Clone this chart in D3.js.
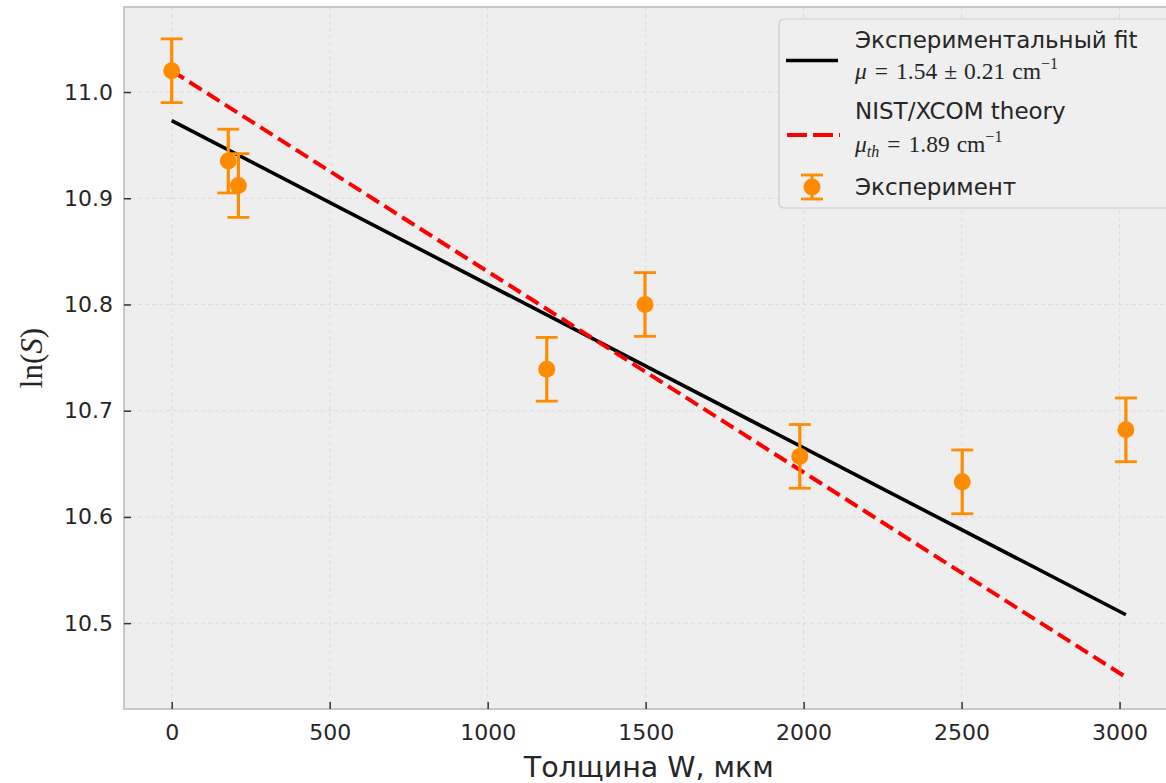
<!DOCTYPE html>
<html>
<head>
<meta charset="utf-8">
<script src="https://cdn.jsdelivr.net/npm/d3@7"></script>
<style>
  html, body { margin: 0; padding: 0; background: #ffffff; overflow: hidden; }
  svg { display: block; }
  text { font-family: "DejaVu Sans", sans-serif; fill: #262626; }
  .math { font-family: "Liberation Serif", "DejaVu Serif", serif; }
</style>
</head>
<body>
<div id="chart"></div>
<script>
// Thickness W (µm) and measured ln(S) with its uncertainty
const thickness = [0, 179, 211, 1187, 1498, 1988, 2502, 3020];
const lnS = [11.020, 10.935, 10.912, 10.739, 10.800, 10.657, 10.633, 10.682];
const lnSErr = [0.03, 0.03, 0.03, 0.03, 0.03, 0.03, 0.03, 0.03];

// Linear models: ln S = a - mu * W  (mu in cm^-1, W in µm -> factor 1e-4)
const fitIntercept = 10.973;
const fitMu = 1.54;
const theoryIntercept = 11.020;
const theoryMu = 1.89;

const xTicks = [0, 500, 1000, 1500, 2000, 2500, 3000];
const yTicks = [10.5, 10.6, 10.7, 10.8, 10.9, 11.0];

const W = 1166, H = 783;
const plot = { left: 124, top: 7, bottom: 709, right: 1173.6 };

const svg = d3.select("#chart").append("svg")
  .attr("width", W).attr("height", H);

const xMin = d3.min(thickness), xMax = d3.max(thickness);
const fitLine = w => fitIntercept - fitMu * 1e-4 * w;
const thLine = w => theoryIntercept - theoryMu * 1e-4 * w;

const yLo = Math.min(d3.min(lnS.map((v, i) => v - lnSErr[i])), thLine(xMax), fitLine(xMax));
const yHi = Math.max(d3.max(lnS.map((v, i) => v + lnSErr[i])), thLine(xMin), fitLine(xMin));
const xPad = (xMax - xMin) * 0.05, yPad = (yHi - yLo) * 0.05;

const x = d3.scaleLinear().domain([xMin - xPad, xMax + xPad]).range([plot.left, plot.right]);
const y = d3.scaleLinear().domain([yLo - yPad, yHi + yPad]).range([plot.bottom, plot.top]);

// Axes background
svg.append("rect")
  .attr("x", plot.left).attr("y", plot.top)
  .attr("width", plot.right - plot.left).attr("height", plot.bottom - plot.top)
  .attr("fill", "#eeeeee");

// Grid
const grid = svg.append("g").attr("stroke", "#dadada").attr("stroke-width", 0.9)
  .attr("stroke-dasharray", "4,3");
grid.selectAll("line.gx").data(xTicks).join("line")
  .attr("x1", d => x(d)).attr("x2", d => x(d))
  .attr("y1", plot.top).attr("y2", plot.bottom);
grid.selectAll("line.gy").data(yTicks).join("line")
  .attr("y1", d => y(d)).attr("y2", d => y(d))
  .attr("x1", plot.left).attr("x2", plot.right);

// Fit and theory lines
const lineGen = f => d3.line().x(d => x(d)).y(d => y(f(d)));
svg.append("path")
  .attr("d", lineGen(fitLine)([xMin, xMax]))
  .attr("stroke", "#000000").attr("stroke-width", 3.6).attr("fill", "none");
svg.append("path")
  .attr("d", lineGen(thLine)([xMin, xMax]))
  .attr("stroke", "#ff0000").attr("stroke-width", 4).attr("fill", "none")
  .attr("stroke-dasharray", "14.5,6.5");

// Error bars and points
const orange = "#ff8c00";
const pts = thickness.map((w, i) => ({ w, v: lnS[i], e: lnSErr[i] }));
const eb = svg.append("g").attr("stroke", orange).attr("stroke-width", 3.2);
eb.selectAll("line.bar").data(pts).join("line")
  .attr("x1", d => x(d.w)).attr("x2", d => x(d.w))
  .attr("y1", d => y(d.v - d.e)).attr("y2", d => y(d.v + d.e));
eb.selectAll("line.capTop").data(pts).join("line")
  .attr("x1", d => x(d.w) - 11).attr("x2", d => x(d.w) + 11)
  .attr("y1", d => y(d.v + d.e)).attr("y2", d => y(d.v + d.e)).attr("stroke-width", 2.8);
eb.selectAll("line.capBot").data(pts).join("line")
  .attr("x1", d => x(d.w) - 11).attr("x2", d => x(d.w) + 11)
  .attr("y1", d => y(d.v - d.e)).attr("y2", d => y(d.v - d.e)).attr("stroke-width", 2.8);
svg.append("g").selectAll("circle").data(pts).join("circle")
  .attr("cx", d => x(d.w)).attr("cy", d => y(d.v)).attr("r", 8.5)
  .attr("fill", orange);

// Frame
svg.append("rect")
  .attr("x", plot.left).attr("y", plot.top)
  .attr("width", plot.right - plot.left).attr("height", plot.bottom - plot.top)
  .attr("fill", "none").attr("stroke", "#bcbcbc").attr("stroke-width", 1.6);

// Axes with inward ticks
const xAxis = svg.append("g").attr("transform", `translate(0,${plot.bottom})`)
  .call(d3.axisBottom(x).tickValues(xTicks).tickSizeInner(-7).tickSizeOuter(0).tickPadding(15)
    .tickFormat(d3.format("d")));
const yAxis = svg.append("g").attr("transform", `translate(${plot.left},0)`)
  .call(d3.axisLeft(y).tickValues(yTicks).tickSizeInner(-7).tickSizeOuter(0).tickPadding(11)
    .tickFormat(d3.format(".1f")));
[xAxis, yAxis].forEach(a => {
  a.select(".domain").remove();
  a.selectAll(".tick line").attr("stroke", "#333333").attr("stroke-width", 1.5);
  a.selectAll(".tick text").attr("font-size", 22).attr("fill", "#262626")
    .attr("font-family", "DejaVu Sans");
});

// Axis titles
svg.append("text")
  .attr("x", (plot.left + plot.right) / 2).attr("y", 777)
  .attr("text-anchor", "middle").attr("font-size", 28.5)
  .text("Толщина W, мкм");

const yl = svg.append("text").attr("class", "math")
  .attr("transform", `translate(42,${(plot.top + plot.bottom) / 2}) rotate(-90)`)
  .attr("text-anchor", "middle").attr("font-size", 31);
yl.append("tspan").text("ln(");
yl.append("tspan").attr("font-style", "italic").text("S");
yl.append("tspan").text(")");

// Legend
const lg = svg.append("g");
lg.append("rect")
  .attr("x", 779).attr("y", 19).attr("width", 400).attr("height", 189).attr("rx", 5)
  .attr("fill", "#eeeeee").attr("fill-opacity", 0.85)
  .attr("stroke", "#cccccc").attr("stroke-width", 1.2);

lg.append("line").attr("x1", 786).attr("x2", 838).attr("y1", 60.5).attr("y2", 60.5)
  .attr("stroke", "#000").attr("stroke-width", 3.6);
lg.append("line").attr("x1", 787).attr("x2", 840).attr("y1", 135).attr("y2", 135)
  .attr("stroke", "#ff0000").attr("stroke-width", 4).attr("stroke-dasharray", "20,6");

const lgX = 855;
lg.append("text").attr("x", lgX).attr("y", 48).attr("font-size", 23).text("Экспериментальный fit");
lg.append("text").attr("x", lgX).attr("y", 119).attr("font-size", 23).text("NIST/XCOM theory");
lg.append("text").attr("x", lgX).attr("y", 195).attr("font-size", 23).text("Эксперимент");

// Math-style legend annotations, built from tspans with explicit gaps
function mathRow(yPos, parts) {
  const t = lg.append("text").attr("class", "math").attr("x", lgX).attr("y", yPos).attr("font-size", 23.5);
  parts.forEach(p => {
    const s = t.append("tspan").text(p.t);
    if (p.it) s.attr("font-style", "italic");
    if (p.fs) s.attr("font-size", p.fs);
    if (p.dx) s.attr("dx", p.dx);
    if (p.dy) s.attr("dy", p.dy);
  });
}
mathRow(79, [
  { t: "μ", it: true },
  { t: "=", dx: 8 },
  { t: "1.54", dx: 8 },
  { t: "±", dx: 7 },
  { t: "0.21", dx: 7 },
  { t: "cm", dx: 7 },
  { t: "−1", fs: 16, dy: -10 }
]);
mathRow(152, [
  { t: "μ", it: true },
  { t: "th", it: true, fs: 16, dy: 5 },
  { t: "=", dx: 8, dy: -5 },
  { t: "1.89", dx: 8 },
  { t: "cm", dx: 7 },
  { t: "−1", fs: 16, dy: -10 }
]);

// Legend marker for the data series
const lm = lg.append("g").attr("stroke", orange);
lm.append("line").attr("x1", 812).attr("x2", 812).attr("y1", 175).attr("y2", 199).attr("stroke-width", 3.2);
lm.append("line").attr("x1", 801).attr("x2", 823).attr("y1", 175).attr("y2", 175).attr("stroke-width", 2.8);
lm.append("line").attr("x1", 801).attr("x2", 823).attr("y1", 199).attr("y2", 199).attr("stroke-width", 2.8);
lg.append("circle").attr("cx", 812).attr("cy", 187).attr("r", 8.5).attr("fill", orange);
</script>
</body>
</html>
